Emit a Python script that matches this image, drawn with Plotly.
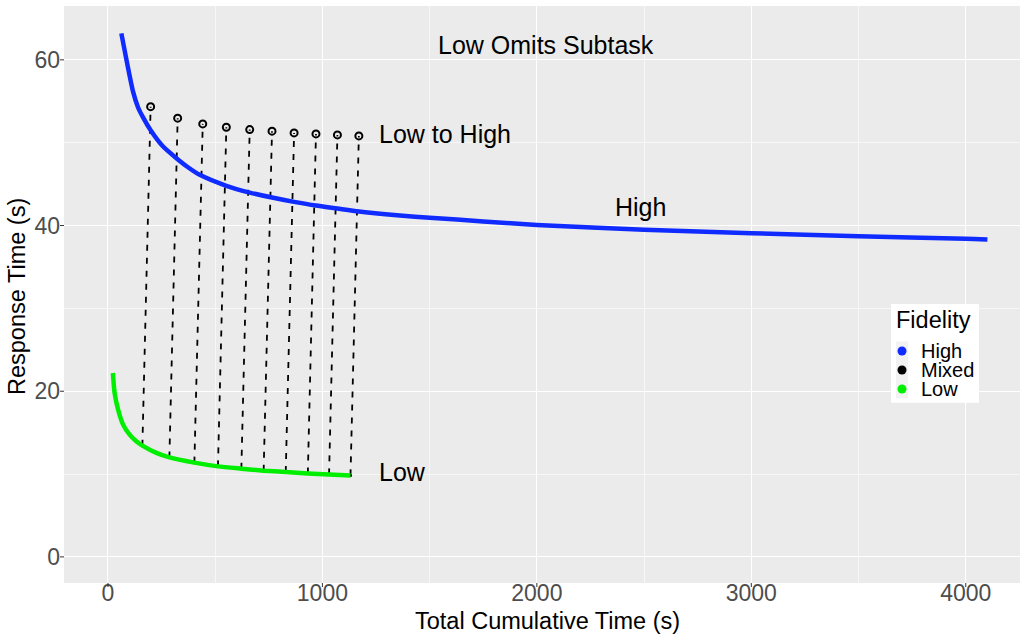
import plotly.graph_objects as go

# High fidelity curve
high_x = [62.5, 117, 140, 163, 199, 257, 319, 373, 428, 552, 661, 765, 868, 970, 1070, 1170, 1361, 1500,
          1750, 2000, 2500, 3000, 3500, 4000, 4101]
high_y = [63.2, 56.16, 54.28, 53.08, 51.5, 49.53, 48.13, 47.04, 46.12, 44.8, 43.98, 43.38, 42.86, 42.41,
          42.05, 41.69, 41.2, 40.95, 40.5, 40.07, 39.5, 39.07, 38.7, 38.4, 38.3]

# Low fidelity curve
low_x = [23, 31, 47, 70, 101, 132, 160.5, 226, 286.4, 403, 513, 622, 726, 829, 932, 1031, 1131]
low_y = [22.2, 19.8, 17.8, 16.0, 14.75, 13.95, 13.43, 12.55, 12.01, 11.38, 10.93, 10.65, 10.41, 10.25,
         10.08, 9.96, 9.84]

# Mixed (Low to High) circles
mix_x = [199, 325, 442, 552, 661, 765, 868, 970, 1070, 1170]
mix_y = [54.35, 52.96, 52.27, 51.87, 51.58, 51.39, 51.18, 51.06, 50.94, 50.82]

# Start points of dashed segments on the Low curve
seg_x = [160.5, 286.4, 403, 513, 622, 726, 829, 932, 1031, 1131]
seg_y = [13.43, 12.01, 11.38, 10.93, 10.65, 10.41, 10.25, 10.08, 9.96, 9.84]

x_ticks = [0, 1000, 2000, 3000, 4000]
y_ticks = [0, 20, 40, 60]

legend_names = ["High", "Mixed", "Low"]
BLUE = "#0f2bff"
GREEN = "#00ee00"
legend_colors = [BLUE, "black", GREEN]
FONT = "Liberation Sans, Arial, Helvetica, sans-serif"

W, H = 1020, 635
ML, MR, MT, MB = 64, 0, 6, 52
PW, PH = W - ML - MR, H - MT - MB
TICKLEN = 4


def px(xp):
    return (xp - ML) / PW


def py(yp):
    return (H - MB - yp) / PH


fig = go.Figure()

# dashed segments
sx, sy = [], []
for x0, y0, x1, y1 in zip(seg_x, seg_y, mix_x, mix_y):
    sx += [x0, x1, None]
    sy += [y0, y1, None]
fig.add_trace(go.Scatter(x=sx, y=sy, mode="lines", line=dict(color="black", width=1.8, dash="6px,7px"),
                         showlegend=False, hoverinfo="skip"))
fig.add_trace(go.Scatter(x=seg_x, y=seg_y, mode="markers", marker=dict(color="black", size=3),
                         showlegend=False, hoverinfo="skip"))

fig.add_trace(go.Scatter(x=high_x, y=high_y, mode="lines",
                         line=dict(color=BLUE, width=4.5, shape="spline", smoothing=0.6),
                         showlegend=False))
fig.add_trace(go.Scatter(x=low_x, y=low_y, mode="lines",
                         line=dict(color=GREEN, width=4.5, shape="spline", smoothing=0.6),
                         showlegend=False))
fig.add_trace(go.Scatter(x=mix_x, y=mix_y, mode="markers",
                         marker=dict(symbol="circle-open", color="black", size=7, line=dict(width=2)),
                         showlegend=False))

anns = [
    dict(x=2042, y=61.8, text="Low Omits Subtask", xanchor="center"),
    dict(x=1253, y=51.06, text="Low to High", xanchor="left"),
    dict(x=2484, y=42.26, text="High", xanchor="center"),
    dict(x=1253, y=10.29, text="Low", xanchor="left"),
]
for a in anns:
    fig.add_annotation(x=a["x"], y=a["y"], text=a["text"], xanchor=a["xanchor"], yanchor="middle",
                       showarrow=False, font=dict(size=25, color="black", family=FONT))

# axis titles
fig.add_annotation(x=px(547.6), y=py(621), xref="paper", yref="paper", text="Total Cumulative Time (s)",
                   showarrow=False, xanchor="center", yanchor="middle",
                   font=dict(size=23.5, color="black", family=FONT))
fig.add_annotation(x=px(17), y=py(297), xref="paper", yref="paper", text="Response Time (s)",
                   showarrow=False, xanchor="center", yanchor="middle", textangle=-90,
                   font=dict(size=23.5, color="black", family=FONT))

shapes = []
# short outside tick marks (ggplot style), placed at the tick values
for t in x_ticks:
    shapes.append(dict(type="line", xref="x", yref="paper", x0=t, x1=t, y0=0, y1=-TICKLEN / PH,
                       line=dict(color="#333333", width=1)))
for t in y_ticks:
    shapes.append(dict(type="line", xref="paper", yref="y", x0=0, x1=-TICKLEN / PW, y0=t, y1=t,
                       line=dict(color="#333333", width=1)))

# manual legend (ggplot style)
shapes += [
    dict(type="rect", xref="paper", yref="paper", x0=px(891), x1=px(979), y0=py(402.7), y1=py(304),
         fillcolor="white", line=dict(width=0), layer="above"),
    dict(type="rect", xref="paper", yref="paper", x0=px(896), x1=px(908), y0=py(398.5), y1=py(341.5),
         fillcolor="#f2f2f2", line=dict(width=0), layer="above"),
]
fig.add_annotation(x=px(894), y=py(320), xref="paper", yref="paper", text="Fidelity", showarrow=False,
                   xanchor="left", yanchor="middle", font=dict(size=23.5, color="black", family=FONT))
for i, (name, col) in enumerate(zip(legend_names, legend_colors)):
    cy = 351 + 19 * i
    r = 4.5
    shapes.append(dict(type="circle", xref="paper", yref="paper", x0=px(902 - r), x1=px(902 + r),
                       y0=py(cy + r), y1=py(cy - r), fillcolor=col, line=dict(width=0), layer="above"))
    fig.add_annotation(x=px(919), y=py(cy), xref="paper", yref="paper", text=name, showarrow=False,
                       xanchor="left", yanchor="middle", font=dict(size=20, color="black", family=FONT))

axis_common = dict(
    showgrid=True, gridcolor="white", gridwidth=1.2, zeroline=False,
    ticks="",
    tickfont=dict(size=23, color="#4d4d4d", family=FONT),
    showline=False, automargin=False,
)

fig.update_layout(
    width=W, height=H,
    margin=dict(l=ML, r=MR, t=MT, b=MB),
    paper_bgcolor="white", plot_bgcolor="#ebebeb",
    font=dict(family=FONT, color="black"),
    showlegend=False,
    shapes=shapes,
)
fig.update_xaxes(range=[-205, 4253], tickvals=x_ticks, anchor="free", position=6 / PH,
                 minor=dict(showgrid=True, gridcolor="#f7f7f7", gridwidth=0.6,
                            tickvals=[500, 1500, 2500, 3500], ticks=""),
                 **axis_common)
fig.update_yaxes(range=[-3.15, 66.5], tickvals=y_ticks, ticklabelstandoff=3,
                 minor=dict(showgrid=True, gridcolor="#f7f7f7", gridwidth=0.6,
                            tickvals=[10, 30, 50], ticks=""),
                 **axis_common)

fig.write_html("out.html", config={"displayModeBar": False},
               post_script="document.body.style.margin='0px';document.body.style.overflow='hidden';")
